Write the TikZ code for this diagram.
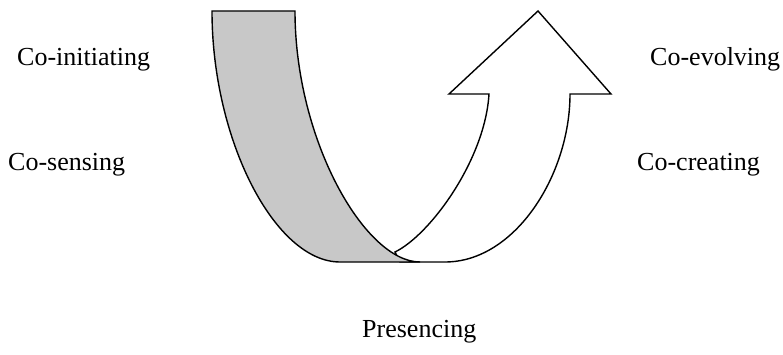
\documentclass[tikz,border=0pt]{standalone}
\usepackage{fontspec}
\setmainfont{Liberation Serif}
\usepackage{xcolor}
\usepackage{tikz}
\definecolor{ribbongray}{RGB}{200,200,200}

\begin{document}
\begin{tikzpicture}[x=1pt, y=-1pt,
  every node/.style={font=\fontsize{26}{30}\selectfont, inner sep=0pt},
  ribbon/.style={draw=black, line width=1.4pt, line join=miter}]
\useasboundingbox (0,0) rectangle (783,355);

% rising arrow (front side)
\draw[ribbon, fill=white]
  (395,252) .. controls (430,235) and (485,160) .. (489,94)
  -- (449,94) -- (538,11) -- (611,94) -- (570,94)
  .. controls (570,175) and (515,262) .. (445,262)
  -- (400,262) -- cycle;

% descending band (back side)
\draw[ribbon, fill=ribbongray]
  (212,11) -- (295,11)
  .. controls (295,140) and (365,262) .. (420,262)
  -- (340,262)
  .. controls (275,262) and (212,140) .. cycle;

\node[anchor=base west] (initiating) at (17,66) {Co-initiating};
\node[anchor=base west] (sensing) at (8,171) {Co-sensing};
\node[anchor=base west] (evolving) at (650,66) {Co-evolving};
\node[anchor=base west] (creating) at (637,171) {Co-creating};
\node[anchor=base west] (presencing) at (362,337) {Presencing};
\end{tikzpicture}
\end{document}
